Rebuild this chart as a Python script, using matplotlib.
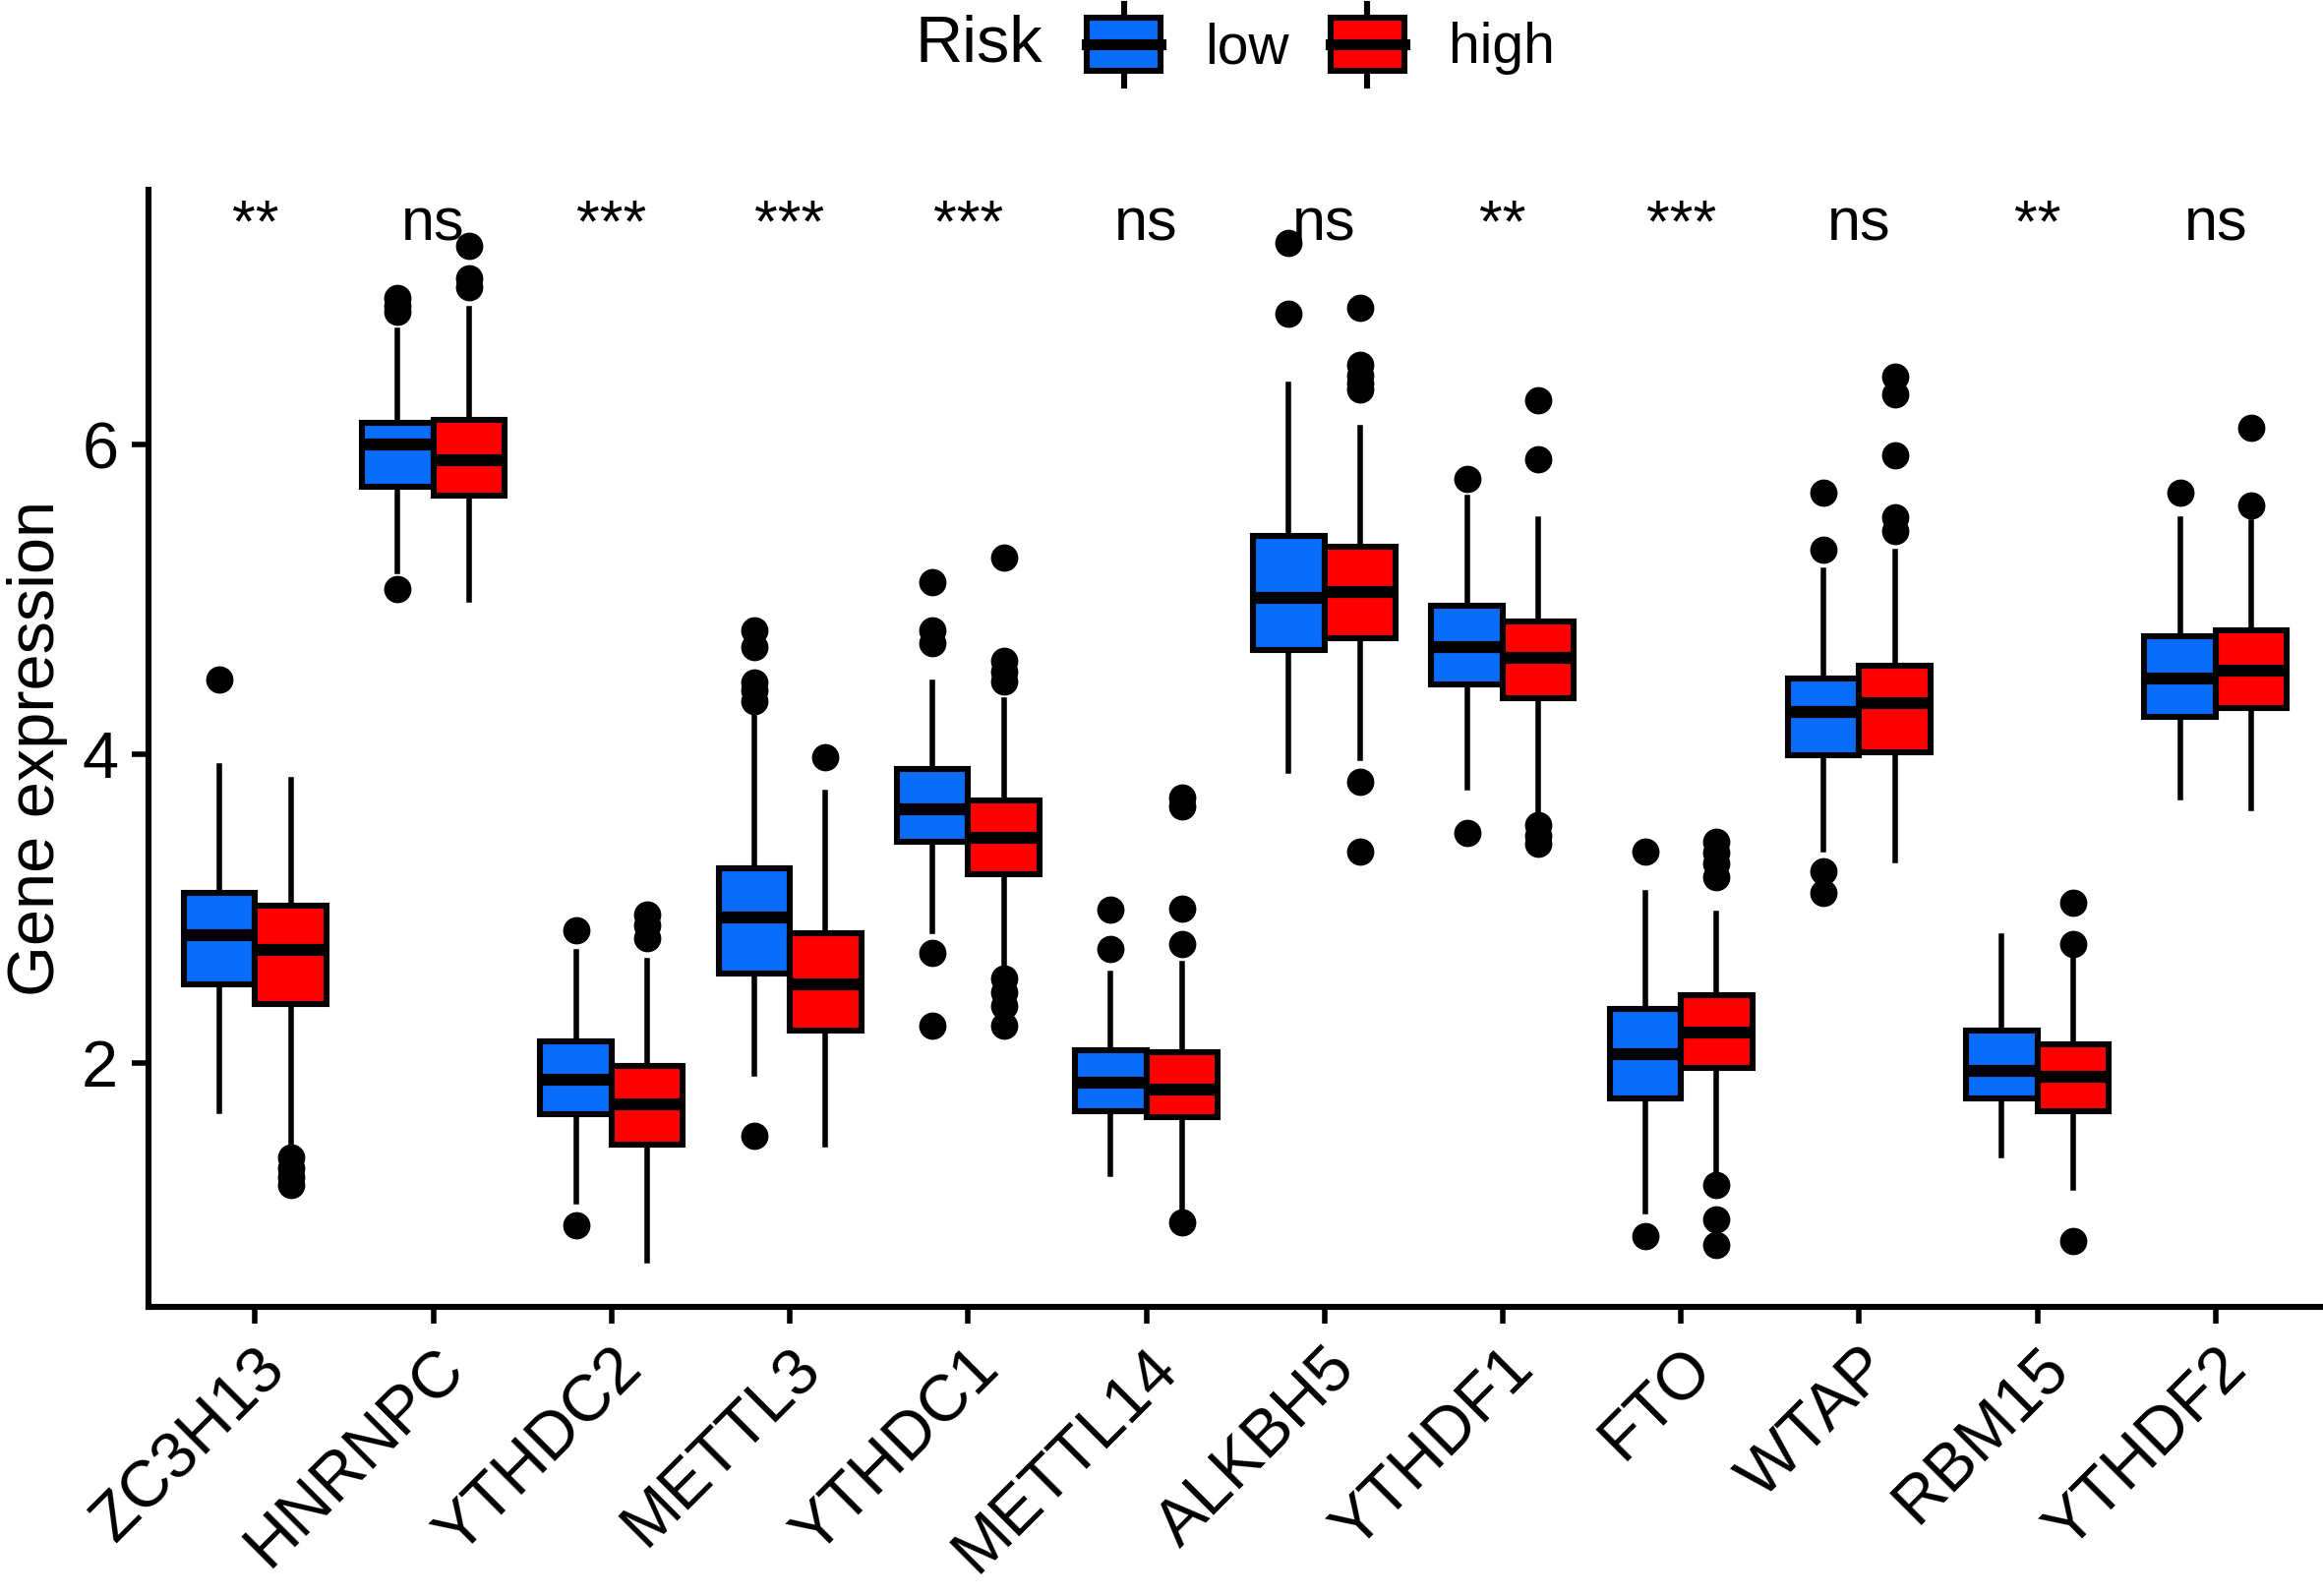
import matplotlib
matplotlib.use('Agg')
import matplotlib.pyplot as plt
from matplotlib.patches import Patch, Rectangle
from matplotlib.lines import Line2D
from matplotlib.legend_handler import HandlerBase

plt.rcParams['font.family'] = ['Liberation Sans', 'DejaVu Sans']

# data ---------------------------------------------------------------------
genes = ['ZC3H13', 'HNRNPC', 'YTHDC2', 'METTL3', 'YTHDC1', 'METTL14',
         'ALKBH5', 'YTHDF1', 'FTO', 'WTAP', 'RBM15', 'YTHDF2']
signif = ['**', 'ns', '***', '***', '***', 'ns', 'ns', '**', '***', 'ns', '**', 'ns']

# low risk group
low_q1 = [2.51, 5.73, 1.67, 2.58, 3.43, 1.69, 4.67, 4.45, 1.77, 3.99, 1.77, 4.24]
low_med = [2.83, 6.00, 1.89, 2.94, 3.64, 1.87, 5.01, 4.69, 2.06, 4.27, 1.95, 4.49]
low_q3 = [3.10, 6.14, 2.14, 3.26, 3.90, 2.08, 5.41, 4.96, 2.35, 4.49, 2.21, 4.76]
low_lo = [1.69, 5.18, 1.10, 1.93, 2.85, 1.28, 3.89, 3.78, 1.04, 3.38, 1.40, 3.72]
low_hi = [3.92, 6.74, 2.72, 4.28, 4.46, 2.58, 6.39, 5.66, 3.10, 5.19, 2.82, 5.52]
low_out = [[4.48],
           [6.95, 6.90, 6.86, 5.07],
           [2.86, 0.95],
           [4.80, 4.69, 4.46, 4.41, 4.34, 1.53],
           [5.11, 4.80, 4.72, 2.71, 2.24],
           [2.99, 2.74],
           [7.31, 6.85],
           [5.78, 3.49],
           [3.37, 0.88],
           [5.69, 5.32, 3.24, 3.10],
           [],
           [5.69]]

# high risk group
high_q1 = [2.38, 5.67, 1.47, 2.21, 3.22, 1.65, 4.75, 4.36, 1.97, 4.01, 1.69, 4.30]
high_med = [2.73, 5.90, 1.73, 2.51, 3.46, 1.83, 5.05, 4.62, 2.20, 4.33, 1.91, 4.54]
high_q3 = [3.02, 6.16, 1.98, 2.84, 3.70, 2.07, 5.34, 4.86, 2.44, 4.57, 2.12, 4.80]
high_lo = [1.45, 5.00, 0.72, 1.47, 2.60, 1.04, 3.97, 3.59, 1.29, 3.31, 1.19, 3.65]
high_hi = [3.83, 6.88, 2.66, 3.75, 4.35, 2.64, 6.11, 5.52, 2.97, 5.31, 2.69, 5.50]
high_out = [[1.39, 1.32, 1.26, 1.21],
            [7.29, 7.08, 7.02],
            [2.96, 2.89, 2.81],
            [3.98],
            [5.27, 4.60, 4.53, 4.47, 2.55, 2.46, 2.37, 2.24],
            [3.72, 3.66, 3.00, 2.77, 0.97],
            [6.89, 6.52, 6.45, 6.40, 6.36, 3.82, 3.37],
            [6.29, 5.91, 3.54, 3.47, 3.42],
            [3.43, 3.36, 3.29, 3.20, 1.21, 0.99, 0.82],
            [6.44, 6.33, 5.93, 5.53, 5.44],
            [3.04, 2.77, 0.85],
            [6.11, 5.61]]

col_low = '#0A6CFA'
col_high = '#FF0000'


def make_stats(q1, med, q3, lo, hi, out):
    stats = []
    for i in range(len(q1)):
        stats.append({'q1': q1[i], 'med': med[i], 'q3': q3[i],
                      'whislo': lo[i], 'whishi': hi[i], 'fliers': out[i]})
    return stats


class BoxHandler(HandlerBase):
    # legend key drawn like a small boxplot (sizes in font units)
    def create_artists(self, legend, orig_handle, xdescent, ydescent,
                       width, height, fontsize, trans):
        cx = width / 2 - xdescent
        cy = height / 2 - ydescent
        wh = 0.73 * fontsize
        bh = 0.475 * fontsize
        whisk = Line2D([cx, cx], [cy - wh, cy + wh],
                       color='black', lw=2.2, transform=trans)
        box = Rectangle((-xdescent, cy - bh), width, 2 * bh,
                        facecolor=orig_handle.get_facecolor(),
                        edgecolor='black', lw=2.2, transform=trans)
        med = Line2D([-xdescent, width - xdescent], [cy, cy],
                     color='black', lw=4.0, transform=trans)
        return [whisk, box, med]


fig = plt.figure(figsize=(11.81, 8.115), dpi=200)
ax = fig.add_axes([0.0638, 0.181, 0.936, 0.700])

pos = list(range(1, len(genes) + 1))
groups = [(make_stats(low_q1, low_med, low_q3, low_lo, low_hi, low_out), -0.2, col_low),
          (make_stats(high_q1, high_med, high_q3, high_lo, high_hi, high_out), 0.2, col_high)]

for stats, off, col in groups:
    ax.bxp(stats, positions=[p + off for p in pos], widths=0.4,
           patch_artist=True, showcaps=False,
           boxprops=dict(facecolor=col, edgecolor='black', linewidth=2.2),
           medianprops=dict(color='black', linewidth=4.4),
           whiskerprops=dict(color='black', linewidth=2.0),
           flierprops=dict(marker='o', markerfacecolor='black',
                           markeredgecolor='black', markersize=9))

for p, s in zip(pos, signif):
    ax.text(p, 7.32, s, ha='center', va='baseline', fontsize=22)

ax.set_xlim(0.4, 12.6)
ax.set_ylim(0.42, 7.65)
ax.set_xticks(pos)
ax.set_xticklabels(genes, rotation=45, ha='right', va='top',
                   rotation_mode='anchor', fontsize=24)
ax.set_yticks([2, 4, 6])
ax.set_yticklabels(['2', '4', '6'], fontsize=24)
ax.set_ylabel('Gene expression', fontsize=24, labelpad=5)

ax.spines['top'].set_visible(False)
ax.spines['right'].set_visible(False)
ax.spines['left'].set_linewidth(2.2)
ax.spines['bottom'].set_linewidth(2.2)
ax.tick_params(axis='both', width=2.0, length=6, pad=5, colors='black')

handles = [Patch(facecolor=col_low), Patch(facecolor=col_high)]
fig.text(0.394, 0.972, 'Risk', ha='left', va='center', fontsize=24)
fig.legend(handles, ['low', 'high'], handler_map={Patch: BoxHandler()},
           ncol=2, frameon=False, loc='center', bbox_to_anchor=(0.5686, 0.972),
           handlelength=1.32, handleheight=1.47, handletextpad=0.79,
           columnspacing=0.74, fontsize=20.5)

fig.savefig('out.png', dpi=200)
